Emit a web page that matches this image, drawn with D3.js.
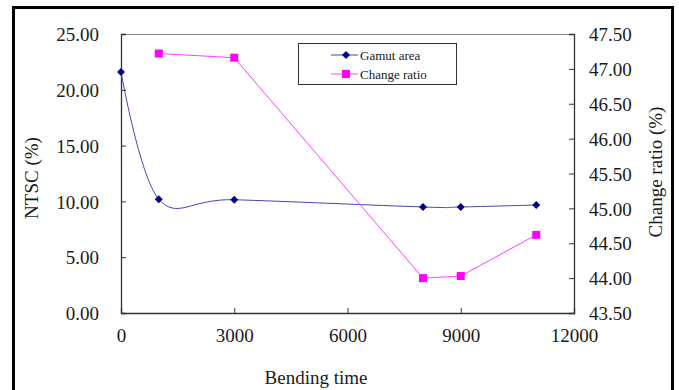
<!DOCTYPE html>
<html>
<head>
<meta charset="utf-8">
<script src="https://cdn.jsdelivr.net/npm/d3@7"></script>
<style>
  body { margin: 0; background: #fff; }
  text { font-family: "Liberation Serif", "DejaVu Serif", serif; fill: #1a1a1a; }
</style>
</head>
<body>
<svg id="chart" width="679" height="390"></svg>
<script>
// data
const bendingTime = [0, 1000, 3000, 8000, 9000, 11000];
const gamutArea = [21.6, 10.2, 10.15, 9.5, 9.5, 9.68];
const ratioTime = [1000, 3000, 8000, 9000, 11000];
const changeRatio = [47.22, 47.16, 44.0, 44.03, 44.62];
const xTicks = [0, 3000, 6000, 9000, 12000];
const leftTicks = [0, 5, 10, 15, 20, 25];
const rightTicks = [43.5, 44, 44.5, 45, 45.5, 46, 46.5, 47, 47.5];

const svg = d3.select('#chart');
const plot = { left: 121, right: 574, top: 34, bottom: 313 };

const x = d3.scaleLinear().domain([0, 12000]).range([plot.left, plot.right]);
const yL = d3.scaleLinear().domain([0, 25]).range([plot.bottom, plot.top]);
const yR = d3.scaleLinear().domain([43.5, 47.5]).range([plot.bottom, plot.top]);

// outer frame (bottom edge falls outside the picture)
svg.append('path')
  .attr('d', 'M13.5,400 V7.5 H672.5 V400')
  .attr('fill', 'none')
  .attr('stroke', '#000')
  .attr('stroke-width', 3);

// plot area top border
svg.append('line')
  .attr('x1', plot.left).attr('x2', plot.right)
  .attr('y1', plot.top + 0.5).attr('y2', plot.top + 0.5)
  .attr('stroke', '#888').attr('stroke-width', 1);

// axes, ticks point inside the plot
const fmt = d3.format('.2f');
const leftAxis = svg.append('g')
  .attr('transform', `translate(${plot.left},0)`)
  .call(d3.axisRight(yL).tickValues(leftTicks).tickSize(5).tickFormat(fmt));
leftAxis.selectAll('text')
  .attr('x', -22).attr('text-anchor', 'end').attr('dy', '0.35em')
  .style('font-size', '19px');

const rightAxis = svg.append('g')
  .attr('transform', `translate(${plot.right},0)`)
  .call(d3.axisLeft(yR).tickValues(rightTicks).tickSize(5).tickFormat(fmt));
rightAxis.selectAll('text')
  .attr('x', 15).attr('text-anchor', 'start').attr('dy', '0.35em')
  .style('font-size', '19px');

const bottomAxis = svg.append('g')
  .attr('transform', `translate(0,${plot.bottom})`)
  .call(d3.axisTop(x).tickValues(xTicks).tickSize(5).tickFormat(d3.format('d')));
bottomAxis.selectAll('text')
  .attr('y', 22).attr('dy', '0.35em')
  .style('font-size', '19px');

svg.selectAll('.domain').attr('stroke', '#333').attr('stroke-width', 1.3);
svg.selectAll('.tick line').attr('stroke', '#333');
svg.selectAll('.tick text').attr('fill', '#1a1a1a');

// axis titles
svg.append('text')
  .attr('transform', `translate(38,178) rotate(-90)`)
  .attr('text-anchor', 'middle')
  .style('font-size', '19px')
  .text('NTSC (%)');

svg.append('text')
  .attr('transform', `translate(662,172) rotate(-90)`)
  .attr('text-anchor', 'middle')
  .style('font-size', '19px')
  .text('Change ratio (%)');

svg.append('text')
  .attr('x', 316).attr('y', 384)
  .attr('text-anchor', 'middle')
  .style('font-size', '19px')
  .text('Bending time');

// gamut area: smoothed line with diamonds
const gamutData = bendingTime.map((t, i) => ({ t, v: gamutArea[i] }));
const gamutLine = d3.line()
  .x(d => x(d.t)).y(d => yL(d.v))
  .curve(d3.curveCardinal.tension(0));
svg.append('path')
  .datum(gamutData)
  .attr('fill', 'none')
  .attr('stroke', '#4646aa')
  .attr('stroke-width', 1)
  .attr('d', gamutLine);

const diamond = d3.symbol().type(d3.symbolDiamond2).size(40);
svg.selectAll('.gamut-pt')
  .data(gamutData)
  .enter()
  .append('path')
  .attr('transform', d => `translate(${x(d.t)},${yL(d.v)})`)
  .attr('d', diamond)
  .attr('fill', '#000080');

// change ratio: straight line with squares
const ratioData = ratioTime.map((t, i) => ({ t, v: changeRatio[i] }));
const ratioLine = d3.line().x(d => x(d.t)).y(d => yR(d.v));
svg.append('path')
  .datum(ratioData)
  .attr('fill', 'none')
  .attr('stroke', '#ff40ff')
  .attr('stroke-width', 1)
  .attr('d', ratioLine);

svg.selectAll('.ratio-pt')
  .data(ratioData)
  .enter()
  .append('rect')
  .attr('x', d => x(d.t) - 4)
  .attr('y', d => yR(d.v) - 4)
  .attr('width', 8)
  .attr('height', 8)
  .attr('fill', '#ff00ff');

// legend
const legend = svg.append('g');
legend.append('rect')
  .attr('x', 298.5).attr('y', 43.5)
  .attr('width', 158).attr('height', 41)
  .attr('fill', '#fff').attr('stroke', '#333');

const legendItems = [
  { label: 'Gamut area', color: '#000080', line: '#4646aa', y: 55, marker: 'diamond' },
  { label: 'Change ratio', color: '#ff00ff', line: '#ff40ff', y: 74, marker: 'square' }
];
legendItems.forEach(item => {
  legend.append('line')
    .attr('x1', 331).attr('x2', 358)
    .attr('y1', item.y).attr('y2', item.y)
    .attr('stroke', item.line);
  if (item.marker === 'diamond') {
    legend.append('path')
      .attr('transform', `translate(346,${item.y})`)
      .attr('d', diamond)
      .attr('fill', item.color);
  } else {
    legend.append('rect')
      .attr('x', 342).attr('y', item.y - 4)
      .attr('width', 8).attr('height', 8)
      .attr('fill', item.color);
  }
  legend.append('text')
    .attr('x', 360).attr('y', item.y)
    .attr('dy', '0.35em')
    .style('font-size', '13px')
    .text(item.label);
});
</script>
</body>
</html>
